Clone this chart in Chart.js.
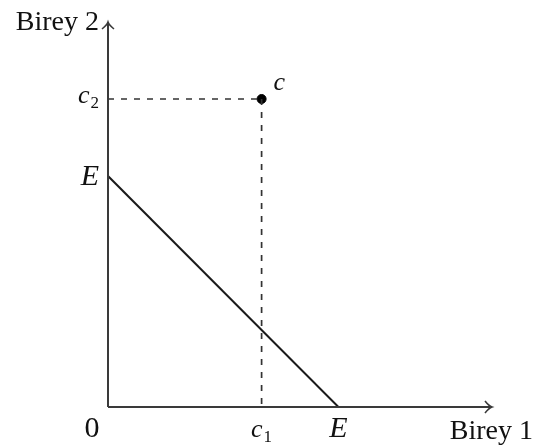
<!DOCTYPE html>
<html lang="en">
<head>
  <meta charset="UTF-8" />
  <title>Birey 1 / Birey 2</title>
  <script src="https://cdn.jsdelivr.net/npm/chart.js"></script>
  <style>
    html, body { margin: 0; padding: 0; background: #fff; }
    #wrap { width: 535px; height: 445px; }
  </style>
</head>
<body>
  <div id="wrap"><canvas id="chart" width="535" height="445"></canvas></div>

  <script>
    // axis extent (arrow tips)
    const axisMax = 10;
    // budget line E–E
    const budgetX = [0, 6];
    const budgetY = [6, 0];
    // consumption point c = (c1, c2)
    const pointC = [4, 8];
    // labels on the axes
    const xTickValues = [0, 4, 6];
    const xTickLabels = ["0", "c", "E"];
    const xTickSubs = ["", "1", ""];
    const yTickValues = [8, 6];
    const yTickLabels = ["c", "E"];
    const yTickSubs = ["2", ""];
    const xAxisTitle = "Birey 1";
    const yAxisTitle = "Birey 2";

    const INK = "#1a1a1a";
    const AXIS = "#3a3a3a";
    const SERIF = `"Liberation Serif", "DejaVu Serif", serif`;

    function mathText(ctx, text, sub, x, y, align) {
      const big = text === "c" ? 26 : 30;
      const mainFont = text === "0" ? `${big}px ${SERIF}` : `italic ${big}px ${SERIF}`;
      ctx.font = mainFont;
      const w = ctx.measureText(text).width;
      ctx.font = `17px ${SERIF}`;
      const sw = sub ? ctx.measureText(sub).width + 1 : 0;
      let left = x;
      if (align === "center") left = x - (w + sw) / 2;
      if (align === "right") left = x - (w + sw);
      ctx.textAlign = "left";
      ctx.textBaseline = "alphabetic";
      ctx.font = mainFont;
      ctx.fillText(text, left, y);
      if (sub) {
        ctx.font = `17px ${SERIF}`;
        ctx.fillText(sub, left + w + 1, y + 5);
      }
    }

    const axesPlugin = {
      id: "axesPlugin",
      afterDraw(chart) {
        const ctx = chart.ctx;
        const xs = chart.scales.x, ys = chart.scales.y;
        const x0 = xs.getPixelForValue(0), y0 = ys.getPixelForValue(0);
        const xEnd = xs.getPixelForValue(axisMax), yEnd = ys.getPixelForValue(axisMax);
        ctx.save();
        // axes
        ctx.strokeStyle = AXIS;
        ctx.lineWidth = 2;
        ctx.beginPath();
        ctx.moveTo(x0, y0); ctx.lineTo(xEnd, y0);
        ctx.moveTo(x0, y0); ctx.lineTo(x0, yEnd);
        ctx.stroke();
        // arrow heads
        ctx.lineWidth = 1.6;
        ctx.beginPath();
        ctx.moveTo(xEnd - 7, y0 - 6); ctx.quadraticCurveTo(xEnd - 3, y0 - 1, xEnd, y0);
        ctx.quadraticCurveTo(xEnd - 3, y0 + 1, xEnd - 7, y0 + 6);
        ctx.moveTo(x0 - 6, yEnd + 7); ctx.quadraticCurveTo(x0 - 1, yEnd + 3, x0, yEnd);
        ctx.quadraticCurveTo(x0 + 1, yEnd + 3, x0 + 6, yEnd + 7);
        ctx.stroke();

        // tick labels
        ctx.fillStyle = "#111";
        xTickValues.forEach((v, i) => {
          mathText(ctx, xTickLabels[i], xTickSubs[i], xs.getPixelForValue(v) - (i === 0 ? 16 : 0), y0 + 30, "center");
        });
        yTickValues.forEach((v, i) => {
          mathText(ctx, yTickLabels[i], yTickSubs[i], x0 - 9, ys.getPixelForValue(v) + (yTickSubs[i] ? 4 : 9), "right");
        });
        // point label
        mathText(ctx, "c", "", xs.getPixelForValue(pointC[0]) + 12, ys.getPixelForValue(pointC[1]) - 9, "left");

        // axis titles
        ctx.font = `28px ${SERIF}`;
        ctx.textBaseline = "alphabetic";
        ctx.textAlign = "right";
        ctx.fillText(xAxisTitle, 533, y0 + 32);
        ctx.fillText(yAxisTitle, x0 - 9, yEnd + 8);
        ctx.restore();
      }
    };

    new Chart(document.getElementById("chart"), {
      type: "scatter",
      data: {
        datasets: [
          {
            // budget line
            data: budgetX.map((x, i) => ({ x, y: budgetY[i] })),
            showLine: true,
            borderColor: INK,
            borderWidth: 2,
            pointRadius: 0
          },
          {
            // guide from c to the vertical axis
            data: [{ x: 0, y: pointC[1] }, { x: pointC[0], y: pointC[1] }],
            showLine: true,
            borderColor: "#333",
            borderWidth: 1.7,
            borderDash: [6, 7],
            pointRadius: 0
          },
          {
            // guide from c to the horizontal axis
            data: [{ x: pointC[0], y: pointC[1] }, { x: pointC[0], y: 0 }],
            showLine: true,
            borderColor: "#333",
            borderWidth: 1.7,
            borderDash: [6, 7],
            pointRadius: 0
          },
          {
            // point c
            data: [{ x: pointC[0], y: pointC[1] }],
            pointRadius: 4.5,
            pointBackgroundColor: "#000",
            pointBorderColor: "#000",
            showLine: false
          }
        ]
      },
      options: {
        responsive: false,
        animation: false,
        layout: { padding: { left: 108, right: 43, top: 22, bottom: 38 } },
        plugins: { legend: { display: false }, tooltip: { enabled: false } },
        scales: {
          x: { type: "linear", min: 0, max: axisMax, display: false },
          y: { type: "linear", min: 0, max: axisMax, display: false }
        }
      },
      plugins: [axesPlugin]
    });
  </script>
</body>
</html>
